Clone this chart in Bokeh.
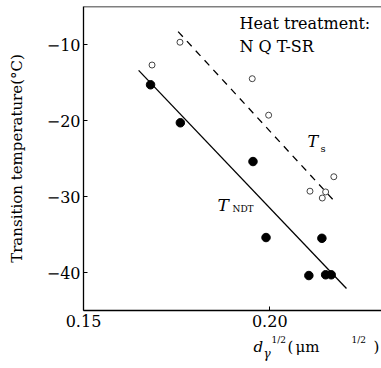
from bokeh.plotting import figure
from bokeh.layouts import column
from bokeh.models import Range1d, FixedTicker, Label, Span, NumeralTickFormatter
from bokeh.embed import file_html
from bokeh.resources import INLINE

# ---- data ----
ndt_x = [0.168, 0.176, 0.1955, 0.199, 0.214, 0.2105, 0.215, 0.2165]
ndt_y = [-15.3, -20.3, -25.4, -35.4, -35.5, -40.4, -40.3, -40.3]

ts_x = [0.1684, 0.1759, 0.1953, 0.1997, 0.2108, 0.2150, 0.2141, 0.2172]
ts_y = [-12.7, -9.7, -14.5, -19.3, -29.3, -29.4, -30.2, -27.4]

ndt_line_x = [0.1648, 0.2206]
ndt_line_y = [-13.4, -42.1]
ts_line_x = [0.1754, 0.2179]
ts_line_y = [-8.3, -30.9]

x_ticks = [0.15, 0.20]
y_ticks = [-10, -20, -30, -40]
y_tick_labels = ["\u221210", "\u221220", "\u221230", "\u221240"]

SERIF = "DejaVu Serif"
W, H = 381, 368
MAIN_H = 334

p = figure(width=W, height=MAIN_H, output_backend="svg", toolbar_location=None,
           x_range=Range1d(0.15, 0.23), y_range=Range1d(-45, -5),
           min_border_left=83, min_border_right=0, min_border_top=6, min_border_bottom=24)
p.outline_line_color = None
p.xgrid.visible = False
p.ygrid.visible = False
p.background_fill_color = "white"
p.border_fill_color = "white"

for ax in (p.xaxis[0], p.yaxis[0]):
    ax.axis_line_color = "black"
    ax.axis_line_width = 1.3
    ax.major_tick_in = 4
    ax.major_tick_out = 0
    ax.major_tick_line_color = "black"
    ax.minor_tick_line_color = None
    ax.major_label_text_font = SERIF
    ax.major_label_text_font_size = "16px"
    ax.major_label_text_color = "black"

p.xaxis.ticker = FixedTicker(ticks=x_ticks)
p.xaxis.formatter = NumeralTickFormatter(format="0.00")
p.xaxis.major_label_standoff = 4
p.yaxis.ticker = FixedTicker(ticks=y_ticks)
p.yaxis.major_label_overrides = {t: s for t, s in zip(y_ticks, y_tick_labels)}
p.yaxis.major_label_standoff = 3
p.yaxis.axis_label = "Transition temperature(\u00b0C)"
p.yaxis.axis_label_text_font = SERIF
p.yaxis.axis_label_text_font_size = "15px"
p.yaxis.axis_label_text_font_style = "normal"
p.yaxis.axis_label_text_color = "black"
p.yaxis.axis_label_standoff = 18

# top border line
p.add_layout(Span(location=p.y_range.end, dimension="width", line_color="black", line_width=1.3))

# lines
p.line(ndt_line_x, ndt_line_y, line_color="black", line_width=1.3)
p.line(ts_line_x, ts_line_y, line_color="black", line_width=1.3, line_dash="7 6")

# points
p.scatter(ts_x, ts_y, marker="circle", size=6, fill_color="white", line_color="#444444", line_width=1)
p.scatter(ndt_x, ndt_y, marker="circle", size=8.5, fill_color="black", line_color="black")


# pixel -> data helpers for text placement inside the frame
def X(px):
    return 0.15 + (px - 83) / 3725.0

def Y(py):
    return -5 - (py - 6) / 7.6

def lab(text, px, py, size, style="normal", **kw):
    p.add_layout(Label(x=X(px), y=Y(py), text=text, text_font=SERIF,
                       text_font_size=f"{size}px", text_font_style=style,
                       text_color="black", **kw))

lab("Heat treatment:", 239, 32, 16)
lab("N Q T-SR", 239, 55, 16)

lab("T", 217, 214, 17, "italic")
lab("NDT", 232, 213, 9)
lab("T", 307, 150, 16, "italic")
lab("s", 320, 153, 10)

# strip below for the x-axis title (sub/superscripts)
s = figure(width=W, height=H - MAIN_H, output_backend="svg", toolbar_location=None,
           x_axis_type=None, y_axis_type=None, x_range=Range1d(0, 1), y_range=Range1d(0, 1),
           min_border_left=0, min_border_right=0, min_border_top=0, min_border_bottom=0)
s.outline_line_color = None
s.xgrid.visible = False
s.ygrid.visible = False
s.background_fill_color = "white"
s.border_fill_color = "white"

def slab(text, px, py, size, style="normal"):
    s.add_layout(Label(x=px, y=H - py, x_units="screen", y_units="screen", text=text,
                       text_font=SERIF, text_font_size=f"{size}px", text_font_style=style,
                       text_color="black"))

slab("d", 170, 355, 15, "italic")
slab("\u03b3", 180, 360, 12, "italic")
slab("1/2", 188, 344, 9)
slab("(", 204, 355, 15)
slab("\u03bcm", 212, 355, 15)
slab("1/2", 268, 344, 9)
slab(")", 290, 355, 15)

layout = column(p, s, spacing=0)
open("out.html", "w").write(file_html(layout, INLINE))
